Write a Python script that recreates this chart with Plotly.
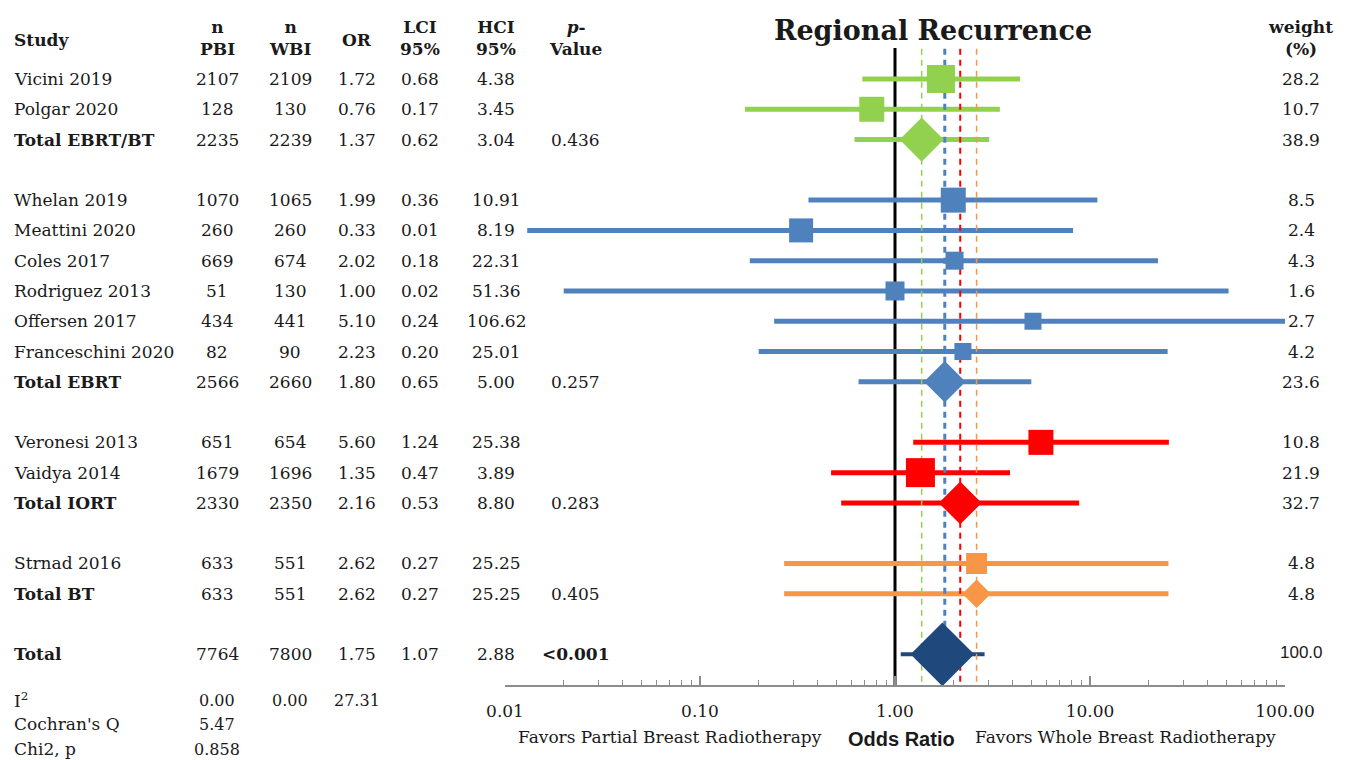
import plotly.graph_objects as go

# ---------------- data ----------------
studies = ["Vicini 2019", "Polgar 2020", "Total EBRT/BT",
           "Whelan 2019", "Meattini 2020", "Coles 2017", "Rodriguez 2013",
           "Offersen 2017", "Franceschini 2020", "Total EBRT",
           "Veronesi 2013", "Vaidya 2014", "Total IORT",
           "Strnad 2016", "Total BT",
           "Total"]
groups = ["EBRT/BT", "EBRT/BT", "EBRT/BT",
          "EBRT", "EBRT", "EBRT", "EBRT", "EBRT", "EBRT", "EBRT",
          "IORT", "IORT", "IORT",
          "BT", "BT",
          "ALL"]
is_total = [False, False, True,
            False, False, False, False, False, False, True,
            False, False, True,
            False, True,
            True]
n_pbi = [2107, 128, 2235, 1070, 260, 669, 51, 434, 82, 2566, 651, 1679, 2330, 633, 633, 7764]
n_wbi = [2109, 130, 2239, 1065, 260, 674, 130, 441, 90, 2660, 654, 1696, 2350, 551, 551, 7800]
odds = [1.72, 0.76, 1.37, 1.99, 0.33, 2.02, 1.00, 5.10, 2.23, 1.80, 5.60, 1.35, 2.16, 2.62, 2.62, 1.75]
lci = [0.68, 0.17, 0.62, 0.36, 0.013, 0.18, 0.02, 0.24, 0.20, 0.65, 1.24, 0.47, 0.53, 0.27, 0.27, 1.07]
hci = [4.38, 3.45, 3.04, 10.91, 8.19, 22.31, 51.36, 106.62, 25.01, 5.00, 25.38, 3.89, 8.80, 25.25, 25.25, 2.88]
pvals = ["", "", "0.436", "", "", "", "", "", "", "0.257", "", "", "0.283", "", "0.405", "<0.001"]
weights = [28.2, 10.7, 38.9, 8.5, 2.4, 4.3, 1.6, 2.7, 4.2, 23.6, 10.8, 21.9, 32.7, 4.8, 4.8, 100.0]

pooled_or = {"EBRT/BT": 1.37, "EBRT": 1.80, "IORT": 2.16, "BT": 2.62}

stat_labels = ["I<sup>2</sup>", "Cochran's Q", "Chi2, p"]
stat_pbi = ["0.00", "5.47", "0.858"]
stat_wbi = ["0.00", "", ""]
stat_or = ["27.31", "", ""]

tick_vals = [0.01, 0.1, 1, 10, 100]
tick_text = ["0.01", "0.10", "1.00", "10.00", "100.00"]

# ---------------- styles ----------------
colors = {"EBRT/BT": "#92D050", "EBRT": "#4F81BD", "IORT": "#FF0000", "BT": "#F79646", "ALL": "#1F497D"}
sq_size = [28, 25, 34, 25, 24, 18, 19, 17, 17, 32, 25, 29, 33, 21, 22, 49]
dash_w = {"EBRT/BT": 1.5, "EBRT": 3, "IORT": 2, "BT": 1.5}
SERIF = "DejaVu Serif"
SANS_B = "Liberation Sans Narrow, Liberation Sans, sans-serif"
TXT = "#1a1a1a"
FS = 17

W, H = 1349, 760
ROW0, ROWH = 79, 30.28   # pixel of first row, pixels per row
AXIS_PX = 685

# row index of each study (blank row between groups)
rows = []
r = 0
prev = groups[0]
for g in groups:
    if g != prev:
        r += 1
        prev = g
    rows.append(r)
    r += 1

y_top = (0 - ROW0) / ROWH
y_bot = (AXIS_PX - ROW0) / ROWH

fig = go.Figure()

# reference line at OR = 1
fig.add_trace(go.Scatter(x=[1, 1], y=[-1.02, y_bot], mode="lines",
                         line=dict(color="black", width=3), hoverinfo="skip", showlegend=False))

# whiskers
for g in ["EBRT/BT", "EBRT", "IORT", "BT", "ALL"]:
    xs, ys = [], []
    for i in range(len(studies)):
        if groups[i] == g:
            xs += [lci[i], hci[i], None]
            ys += [rows[i], rows[i], None]
    fig.add_trace(go.Scatter(x=xs, y=ys, mode="lines",
                             line=dict(color=colors[g], width=4 if g == "ALL" else 5),
                             hoverinfo="skip", showlegend=False))

# pooled dashed lines
for g, v in pooled_or.items():
    fig.add_trace(go.Scatter(x=[v, v], y=[-1.0, y_bot], mode="lines",
                             line=dict(color=colors[g], width=dash_w[g], dash="6px,5px"),
                             hoverinfo="skip", showlegend=False))

# markers
for i in range(len(studies)):
    g = groups[i]
    fig.add_trace(go.Scatter(x=[odds[i]], y=[rows[i]], mode="markers",
                             marker=dict(symbol="diamond" if is_total[i] else "square",
                                         size=sq_size[i], color=colors[g], line=dict(width=0)),
                             hoverinfo="skip", showlegend=False))

# invisible pixel-space subplot used to place the table text
fig.add_trace(go.Scatter(x=[None], y=[None], xaxis="x2", yaxis="y2", mode="markers",
                         hoverinfo="skip", showlegend=False))

ann = []


def add(text, xp, yp, xanchor="center", size=FS, bold=False, family=SERIF):
    if bold:
        text = "<b>" + text + "</b>"
    ann.append(dict(text=text, x=xp, xref="x2", y=yp, yref="y2",
                    xanchor=xanchor, yanchor="middle", showarrow=False,
                    font=dict(family=family, size=size, color=TXT)))


def row_px(rw):
    return ROW0 + ROWH * rw


# header
add("Study", 12, 40, xanchor="left", bold=True)
add("n<br>PBI", 217, 38, bold=True)
add("n<br>WBI", 290, 38, bold=True)
add("OR", 357, 40, bold=True)
add("LCI<br>95%", 420, 38, bold=True)
add("HCI<br>95%", 496, 38, bold=True)
add("<i>p</i>-<br>Value", 575, 38, bold=True)
add("weight<br>(%)", 1300, 38, bold=True)
add("Regional Recurrence", 933, 30, size=27, bold=True)

# table rows
for i in range(len(studies)):
    y = row_px(rows[i])
    add(studies[i], 12, y, xanchor="left", bold=is_total[i])
    add(str(n_pbi[i]), 217, y)
    add(str(n_wbi[i]), 290, y)
    add(f"{odds[i]:.2f}", 357, y)
    add(f"{lci[i]:.2f}", 420, y)
    add(f"{hci[i]:.2f}", 496, y)
    if pvals[i]:
        add(pvals[i], 575, y, bold=pvals[i].startswith("<"))
    if weights[i] >= 100:
        add(f"{weights[i]:.1f}", 1301, y - 2, family="Liberation Sans")
    else:
        add(f"{weights[i]:.1f}", 1301, y)

# stats rows (below axis)
stat_px = [700, 724, 749]
for k in range(len(stat_labels)):
    yp = stat_px[k]
    add(stat_labels[k], 12, yp, xanchor="left", size=17)
    if stat_pbi[k]:
        add(stat_pbi[k], 217, yp, size=16)
    if stat_wbi[k]:
        add(stat_wbi[k], 290, yp, size=16)
    if stat_or[k]:
        add(stat_or[k], 357, yp, size=16)

# axis captions
add("Favors Partial Breast Radiotherapy", 670, 737)
add("Odds Ratio", 901, 739, bold=True, size=20, family=SANS_B)
add("Favors Whole Breast Radiotherapy", 1125, 737)

fig.update_layout(
    width=W, height=H,
    margin=dict(l=0, r=0, t=0, b=0, autoexpand=False),
    paper_bgcolor="white", plot_bgcolor="rgba(0,0,0,0)",
    showlegend=False,
    annotations=ann,
    xaxis=dict(type="log", range=[-2, 2], domain=[505 / W, 1285 / W], anchor="y",
               automargin=False,
               showgrid=False, zeroline=False, showline=True,
               linecolor="#8c8c8c", linewidth=1.5,
               ticks="inside", ticklen=9, tickwidth=1.5, tickcolor="#8c8c8c",
               tickvals=tick_vals, ticktext=tick_text,
               tickfont=dict(family=SERIF, size=17, color=TXT),
               ticklabelstandoff=10,
               minor=dict(ticks="inside", ticklen=5, tickwidth=1.2, tickcolor="#8c8c8c",
                          dtick="D1", showgrid=False),
               fixedrange=True),
    yaxis=dict(range=[y_bot, y_top], domain=[1 - AXIS_PX / H, 1], anchor="x", visible=False,
               automargin=False, showgrid=False, zeroline=False, fixedrange=True),
    xaxis2=dict(range=[0, W], domain=[0, 1], anchor="y2", visible=False, automargin=False,
                showgrid=False, zeroline=False, fixedrange=True),
    yaxis2=dict(range=[H, 0], domain=[0, 1], anchor="x2", visible=False, automargin=False,
                showgrid=False, zeroline=False, fixedrange=True),
)

fig.write_html("out.html")
